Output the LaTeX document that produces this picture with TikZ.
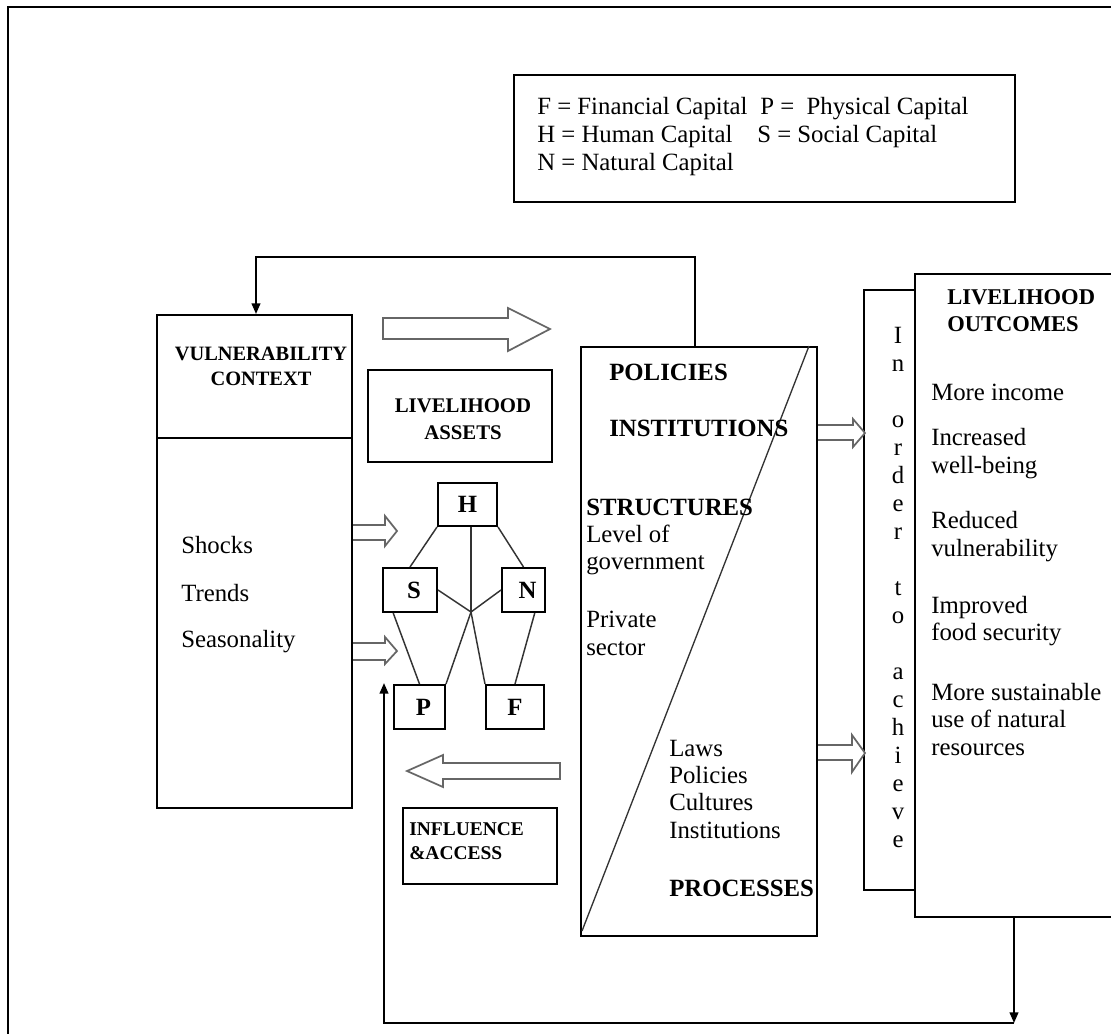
\documentclass[tikz,border=0pt]{standalone}
\usepackage{fontspec}
\setmainfont{Liberation Serif}
\usetikzlibrary{calc,arrows.meta}

\begin{document}
\begin{tikzpicture}[x=0.75pt,y=-0.75pt,
  box/.style={draw, line width=1.5pt, rectangle, inner sep=0pt},
  sz/.style 2 args={minimum width=#1*0.75pt, minimum height=#2*0.75pt},
  link/.style={draw=black!80, line width=1.1pt},
  hollow/.style={draw=black!60, line width=1.3pt, fill=white, line join=miter},
  feed/.style={line width=1.5pt, -{Triangle[length=8pt,width=6.5pt]}},
  body/.style={inner sep=0pt, align=left, font=\fontsize{18.6}{20.5}\selectfont},
  head/.style={inner sep=0pt, align=left, font=\fontsize{18.6}{20.5}\selectfont\bfseries},
  small/.style={inner sep=0pt, font=\fontsize{15.3}{18.8}\selectfont\bfseries},
  asset/.style={box, font=\fontsize{18.6}{20.5}\selectfont\bfseries}
]
\useasboundingbox (0,0) rectangle (1111,1033);

% page frame
\draw[line width=1.6pt] (8,1040) -- (8,7) -- (1120,7);

% legend of capitals
\node[box, sz={501}{127}] (legend) at (764.5,138.5) {};
\node[body, anchor=west] (lf) at (537,109) {F = Financial Capital};
\node[body, anchor=west] (lp) at (760,109) {P =\enspace Physical Capital};
\node[body, anchor=west] (lh) at (537,137) {H = Human Capital};
\node[body, anchor=west] (ls) at (757,137) {S = Social Capital};
\node[body, anchor=west] (ln) at (537,165) {N = Natural Capital};

% vulnerability context
\node[box, sz={195}{493}] (vul) at (254.5,561.5) {};
\draw[line width=1.5pt] (vul.west |- 0,438) -- (vul.east |- 0,438);
\node[small, align=center] (vulT) at (261,366) {VULNERABILITY\\CONTEXT};
\node[body, anchor=west] (shocks) at (181,545) {Shocks};
\node[body, anchor=west] (trends) at (181,593) {Trends};
\node[body, anchor=west] (season) at (181,642) {Seasonality};

% livelihood assets
\node[box, sz={184}{92}] (assets) at (460,416) {};
\node[small, align=center, font=\fontsize{15.6}{20.2}\selectfont\bfseries] (assetsT) at (463,419) {LIVELIHOOD\\ASSETS};

% asset pentagon
\node[asset, sz={59}{43}] (H) at (467.5,504.5) {H};
\node[asset, sz={54}{44}] (S) at (410,590) {\hspace*{6pt}S};
\node[asset, sz={43}{44}] (N) at (523.5,590) {\hspace*{6pt}N};
\node[asset, sz={51}{44}] (P) at (419.5,707) {\hspace*{6pt}P};
\node[asset, sz={58}{44}] (F) at (515,707) {F};
\coordinate (J) at (471,612);
\draw[link] (H.south -| J) -- (J);
\draw[link] (H.south west) -- (S.north);
\draw[link] (H.south east) -- (N.north);
\draw[link] (S.east) -- (J);
\draw[link] (N.west) -- (J);
\draw[link] (J) -- (P.north east);
\draw[link] (J) -- (F.north west);
\draw[link] ($(S.south west)!0.2!(S.south east)$) -- (P.north);
\draw[link] ($(N.south west)!0.75!(N.south east)$) -- (F.north);

% policies, institutions and processes
\node[box, sz={236}{589}] (pol) at (699,641.5) {};
\draw[line width=1pt, black!80] ($(pol.south west)+(2,-6)$) -- ($(pol.north east)+(-9,0)$);
\node[head, anchor=west] (polT) at (609,372) {POLICIES};
\node[head, anchor=west] (instT) at (609,428) {INSTITUTIONS};
\node[head, anchor=west] (strT) at (586,507) {STRUCTURES};
\node[body, anchor=west] (lev) at (586,550) {Level of\\government};
\node[body, anchor=west] (priv) at (586,633.5) {Private\\sector};
\node[body, anchor=west] (laws) at (669,789) {Laws\\Policies\\Cultures\\Institutions};
\node[head, anchor=west] (procT) at (669,888) {PROCESSES};

% influence and access
\node[box, sz={154}{76}] (infl) at (480,846) {};
\node[small, align=left, font=\fontsize{14.6}{18}\selectfont\bfseries, anchor=west] (inflT) at (409,841) {INFLUENCE\\\&ACCESS};

% in order to achieve
\node[box, sz={51}{600}] (order) at (889.5,590) {};
\foreach \ch [count=\i from 0] in {I,n,{},o,r,d,e,r,{},t,o,{},a,c,h,i,e,v,e}
  \node[body, anchor=base] (ord\i) at (898,{343+28.05*\i}) {\ch};

% livelihood outcomes
\node[box, fill=white, sz={210}{643}] (out) at (1020,595.5) {};
\node[head, anchor=west, font=\fontsize{16.9}{20.3}\selectfont\bfseries] (outT) at (947,311) {LIVELIHOOD\\OUTCOMES};
\node[body, anchor=west] (o1) at (931,392) {More income};
\node[body, anchor=west] (o2) at (931,453.5) {Increased\\well-being};
\node[body, anchor=west] (o3) at (931,536.5) {Reduced\\vulnerability};
\node[body, anchor=west] (o4) at (931,621) {Improved\\food security};
\node[body, anchor=west] (o5) at (931,719.5) {More sustainable\\use of natural\\resources};

% hollow block arrows
\draw[hollow] (383,318) -- (508,318) -- (508,308) -- (550,329) -- (508,351) -- (508,339) -- (383,339) -- cycle;
\draw[hollow] (vul.east |- 0,525) -- (385,525) -- (385,516) -- (397,531) -- (385,546) -- (385,540) -- (vul.east |- 0,540);
\draw[hollow] (vul.east |- 0,643) -- (385,643) -- (385,637) -- (397,651) -- (385,664) -- (385,660) -- (vul.east |- 0,660);
\draw[hollow] (pol.east |- 0,425) -- (853,425) -- (853,419) -- (865,433) -- (853,447) -- (853,440) -- (pol.east |- 0,440);
\draw[hollow] (pol.east |- 0,745) -- (852,745) -- (852,735) -- (865,753) -- (852,772) -- (852,760) -- (pol.east |- 0,760);
\draw[hollow] (560,763) -- (443,763) -- (443,755) -- (407,771) -- (443,787) -- (443,779) -- (560,779) -- cycle;

% feedback loops
\coordinate (topL) at (256,257);
\draw[feed] (pol.north -| 695,0) |- (topL) -- (vul.north -| topL);
\coordinate (fbR) at (1014,1023);
\coordinate (fbL) at (384,1023);
\draw[feed] (out.south -| fbR) -- (fbR);
\draw[feed] (fbR) -- (fbL) -- (384,683);
\end{tikzpicture}
\end{document}
